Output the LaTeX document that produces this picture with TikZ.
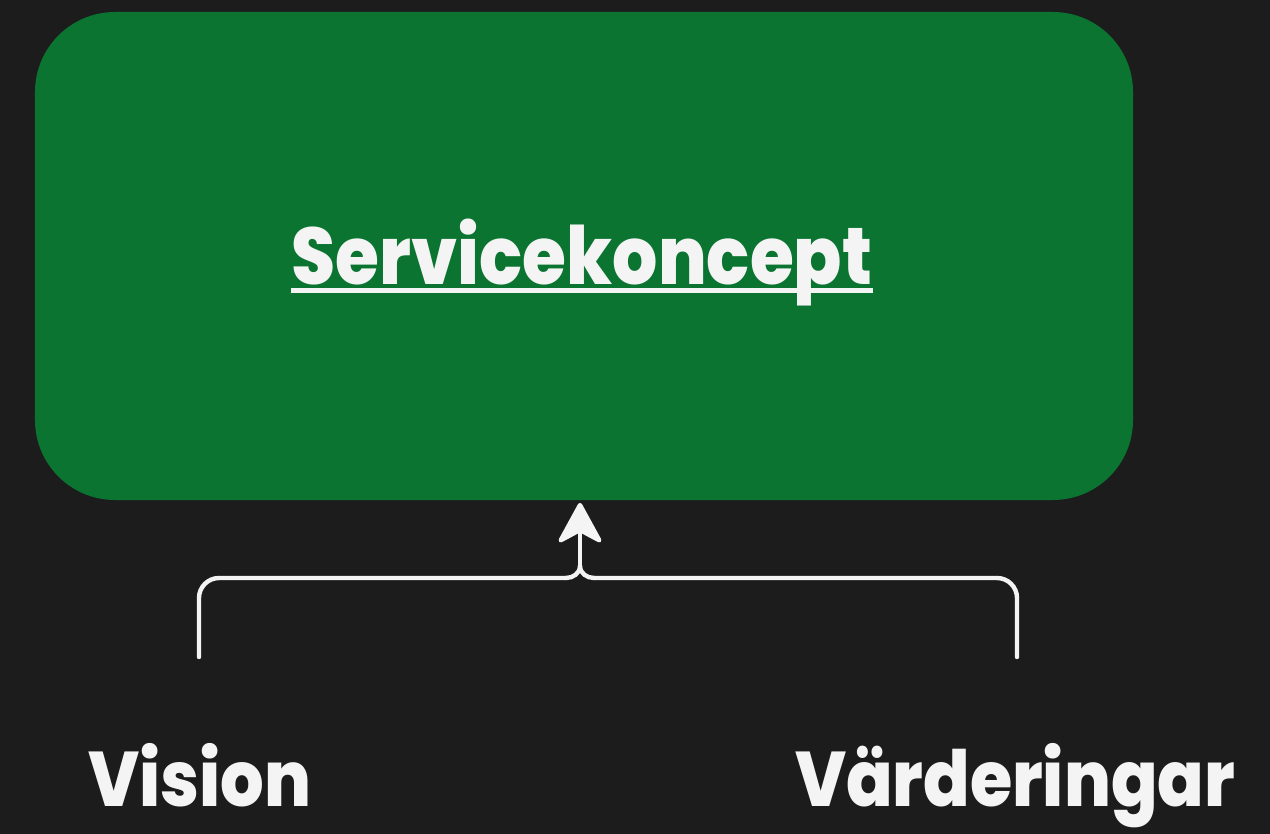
\documentclass[tikz,border=0pt]{standalone}
\usepackage{fontspec}
\setmainfont{Poppins}
\IfFontExistsTF{Poppins ExtraBold}
  {\newfontfamily\heavy{Poppins ExtraBold}}
  {\newcommand\heavy{\bfseries}}
\usetikzlibrary{arrows.meta}
\definecolor{night}{HTML}{1C1C1C}
\definecolor{leaf}{HTML}{0B7430}
\definecolor{chalk}{HTML}{F4F4F4}
\newcommand\tallword[1]{\scalebox{1}[1.13]{#1}}
\begin{document}
\begin{tikzpicture}[x=0.2mm,y=-0.2mm,font=\heavy,text=chalk,
    brace/.style={draw=chalk,line width=2.5pt,line cap=round},
    word/.style={font=\heavy\fontsize{39}{46}\selectfont,inner sep=0pt,
                 text depth=0pt,anchor=base}]
  \fill[night] (0,0) rectangle (1270,834);
  \useasboundingbox (0,0) rectangle (1270,834);
  % green panel
  \node[fill=leaf,rounded corners=16mm,minimum width=219.6mm,
        minimum height=97.6mm,inner sep=0pt] (panel) at (584,256) {};
  \node[font=\heavy\fontsize{40.5}{48}\selectfont,inner sep=0pt,anchor=base]
    (title) at (582,284) {\tallword{Servicekoncept}};
  \draw[chalk,line width=2.4pt] ([yshift=-1.3mm]title.base west)
    -- ([yshift=-1.3mm]title.base east);
  % labels
  \node[word] (vision) at (200,806) {\tallword{Vision}};
  \node[word] (values) at (1015,806) {\tallword{Värderingar}};
  % bracket
  \coordinate (lfoot) at (199,657);
  \coordinate (rfoot) at (1017,657);
  \coordinate (join) at (580,566);
  \draw[brace,rounded corners=4mm] (lfoot) -- (199,578) -- (566,578);
  \draw[brace,rounded corners=4mm] (rfoot) -- (1017,578) -- (594,578);
  \draw[brace] (566,578) to[out=0,in=-90] (join);
  \draw[brace] (594,578) to[out=180,in=-90] (join);
  \draw[brace,-{Stealth[length=9mm,width=9.8mm,inset=2.6mm,round]}]
    (join) -- ([yshift=-0.5mm]panel.south -| join);
\end{tikzpicture}
\end{document}
